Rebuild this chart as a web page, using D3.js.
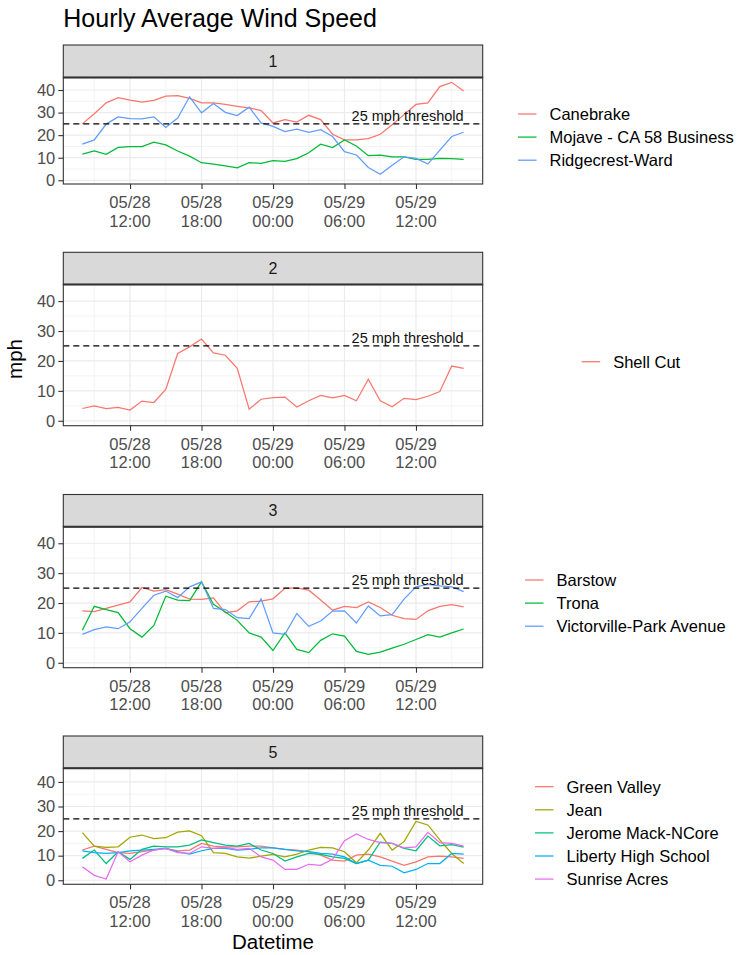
<!DOCTYPE html>
<html>
<head>
<meta charset="utf-8">
<script src="https://cdn.jsdelivr.net/npm/d3@7"></script>
<style>
  body { margin: 0; background: #fff; }
  text { font-family: "Liberation Sans", Arial, sans-serif; }
</style>
</head>
<body>
<div id="chart-area"></div>
<script>
// hourly timestamps 05/28 08:00 -> 05/29 16:00
var hours = [
    "2022-05-28 08:00", "2022-05-28 09:00", "2022-05-28 10:00", "2022-05-28 11:00",
    "2022-05-28 12:00", "2022-05-28 13:00", "2022-05-28 14:00", "2022-05-28 15:00",
    "2022-05-28 16:00", "2022-05-28 17:00", "2022-05-28 18:00", "2022-05-28 19:00",
    "2022-05-28 20:00", "2022-05-28 21:00", "2022-05-28 22:00", "2022-05-28 23:00",
    "2022-05-29 00:00", "2022-05-29 01:00", "2022-05-29 02:00", "2022-05-29 03:00",
    "2022-05-29 04:00", "2022-05-29 05:00", "2022-05-29 06:00", "2022-05-29 07:00",
    "2022-05-29 08:00", "2022-05-29 09:00", "2022-05-29 10:00", "2022-05-29 11:00",
    "2022-05-29 12:00", "2022-05-29 13:00", "2022-05-29 14:00", "2022-05-29 15:00",
    "2022-05-29 16:00"
];

// group 1
var canebrake = [25.0, 29.5, 34.3, 36.6, 35.5, 34.6, 35.4, 37.3, 37.5, 36.3, 34.3, 34.3, 33.6, 32.8, 32.1, 30.9,
    25.4, 26.9, 25.8, 28.8, 26.9, 20.4, 17.9, 17.9, 18.5, 20.4, 24.6, 29.1, 33.6, 34.3, 41.5, 43.4, 39.6];
var mojave = [11.6, 13.0, 11.5, 14.6, 14.9, 14.9, 16.9, 15.7, 13.0, 10.7, 7.8, 7.2, 6.4, 5.5, 7.8, 7.5,
    8.7, 8.4, 9.6, 12.2, 16.0, 14.5, 17.9, 15.2, 10.9, 11.2, 10.4, 10.4, 9.3, 9.3, 9.7, 9.6, 9.3];
var ridgecrest = [16.0, 17.9, 24.9, 28.1, 27.3, 27.2, 28.1, 23.4, 27.6, 37.0, 29.9, 34.0, 30.1, 28.7, 32.4, 25.4,
    23.9, 21.6, 22.7, 21.2, 22.4, 19.4, 12.7, 11.2, 5.7, 2.7, 6.7, 10.4, 9.7, 7.2, 13.4, 19.4, 21.3];
// group 2
var shellCut = [4.1, 5.0, 4.1, 4.5, 3.6, 6.6, 6.1, 10.5, 22.5, 24.7, 27.3, 22.7, 21.9, 17.5, 3.9, 7.2,
    7.7, 7.9, 4.6, 6.7, 8.5, 7.7, 8.5, 6.7, 13.9, 6.7, 4.7, 7.5, 7.1, 8.2, 9.8, 18.3, 17.5];
// group 3
var barstow = [17.4, 17.1, 18.2, 19.3, 20.4, 25.2, 24.0, 24.5, 23.0, 21.3, 21.2, 21.7, 16.7, 17.4, 20.4, 20.6,
    21.4, 24.9, 25.1, 24.3, 21.0, 17.6, 18.9, 18.5, 20.4, 18.5, 15.9, 14.8, 14.5, 17.4, 18.9, 19.5, 18.7];
var trona = [10.9, 18.9, 17.8, 16.8, 11.4, 8.6, 12.5, 22.3, 21.0, 20.8, 27.1, 19.6, 17.0, 14.2, 10.0, 8.6,
    4.1, 10.0, 4.5, 3.4, 7.5, 9.7, 8.9, 3.8, 2.8, 3.6, 4.9, 6.2, 7.8, 9.4, 8.6, 10.0, 11.3];
var victorville = [9.5, 11.1, 12.0, 11.4, 13.7, 18.2, 22.6, 24.0, 21.8, 25.4, 27.1, 18.2, 17.8, 15.1, 14.8, 21.4,
    10.0, 9.5, 16.5, 12.2, 14.0, 17.3, 17.4, 13.3, 19.0, 15.7, 16.1, 21.3, 25.4, 26.2, 25.7, 25.4, 23.8];
// group 5
var greenValley = [12.3, 13.9, 12.6, 11.2, 10.9, 11.6, 12.3, 13.0, 12.0, 12.3, 15.0, 13.9, 13.6, 13.6, 13.9, 13.9,
    13.2, 12.6, 12.3, 11.6, 10.2, 8.2, 7.8, 10.2, 10.6, 9.5, 7.8, 6.1, 7.5, 9.5, 9.8, 9.5, 8.9];
var jean = [19.4, 13.9, 13.4, 13.6, 17.5, 18.4, 16.9, 17.3, 19.6, 20.1, 18.1, 11.2, 10.9, 9.5, 9.0, 9.8,
    10.5, 9.5, 10.6, 12.3, 13.4, 13.2, 11.6, 7.1, 12.3, 19.1, 12.3, 15.7, 23.9, 22.5, 16.4, 10.9, 6.8];
var jeromeMack = [8.9, 12.3, 6.8, 11.6, 8.5, 12.6, 13.9, 13.6, 13.6, 14.3, 16.4, 15.3, 14.3, 13.9, 15.0, 12.3,
    10.9, 7.8, 9.5, 10.9, 10.5, 9.5, 8.9, 6.8, 8.2, 15.5, 15.0, 13.0, 12.0, 18.0, 14.0, 14.5, 13.5];
var liberty = [12.0, 11.2, 10.9, 11.2, 12.0, 12.3, 12.6, 13.0, 11.6, 10.6, 12.0, 13.0, 13.0, 12.3, 12.6, 13.2,
    13.2, 12.6, 12.0, 11.6, 10.9, 10.6, 9.5, 6.8, 8.2, 6.1, 5.7, 3.0, 4.4, 6.8, 6.8, 10.9, 10.6];
var sunrise = [5.5, 2.0, 0.5, 11.6, 7.5, 10.2, 12.3, 13.0, 11.2, 10.9, 13.6, 13.0, 13.4, 12.6, 13.0, 9.5,
    8.2, 4.4, 4.4, 6.5, 6.1, 8.5, 16.1, 18.8, 16.6, 15.3, 15.0, 13.2, 13.6, 19.5, 15.3, 15.0, 13.9];

var groups = ["1", "2", "3", "5"];
var groupSeries = [
    [["Canebrake", canebrake], ["Mojave - CA 58 Business", mojave], ["Ridgecrest-Ward", ridgecrest]],
    [["Shell Cut", shellCut]],
    [["Barstow", barstow], ["Trona", trona], ["Victorville-Park Avenue", victorville]],
    [["Green Valley", greenValley], ["Jean", jean], ["Jerome Mack-NCore", jeromeMack],
     ["Liberty High School", liberty], ["Sunrise Acres", sunrise]]
];
var threshold = 25;
var yTicks = [0, 10, 20, 30, 40];
var xTicks = ["2022-05-28 12:00", "2022-05-28 18:00", "2022-05-29 00:00", "2022-05-29 06:00", "2022-05-29 12:00"];

// palettes (ggplot hue)
var palettes = {
    1: ["#F8766D"],
    3: ["#F8766D", "#00BA38", "#619CFF"],
    5: ["#F8766D", "#A3A500", "#00BF7D", "#00B0F6", "#E76BF3"]
};

// layout of each facet block (pixels)
var left = 63.3, right = 482.7;
var layout = [
    {strip: 45, top: 77.5, bottom: 184, keyX: 518, legendY: 114},
    {strip: 252.3, top: 284.5, bottom: 425.7, keyX: 581.7, legendY: 361.7},
    {strip: 494.5, top: 526.7, bottom: 667.7, keyX: 525, legendY: 580},
    {strip: 736, top: 768.3, bottom: 884.3, keyX: 535, legendY: 786.7}
];

var width = 740, height = 955;
var svg = d3.select("#chart-area").append("svg")
    .attr("width", width)
    .attr("height", height);

var parse = d3.utcParse("%Y-%m-%d %H:%M");
var times = hours.map(parse);
var tickTimes = xTicks.map(parse);

// x scale with 5% expansion like ggplot
var tExt = d3.extent(times);
var tPad = (tExt[1] - tExt[0]) * 0.05;
var x = d3.scaleUtc()
    .domain([new Date(+tExt[0] - tPad), new Date(+tExt[1] + tPad)])
    .range([left, right]);

// shared y domain over all series
var allVals = [];
groupSeries.forEach(function(g) { g.forEach(function(s) { allVals = allVals.concat(s[1]); }); });
var vExt = d3.extent(allVals);
var vPad = (vExt[1] - vExt[0]) * 0.05;
var yDomain = [vExt[0] - vPad, vExt[1] + vPad];

var minorX = d3.utcHour.every(6).range(x.domain()[0], x.domain()[1]).map(function(d) {
    return new Date(+d - 3 * 3600 * 1000);
}).filter(function(d) { return d >= x.domain()[0] && d <= x.domain()[1]; });
minorX.push(new Date(+tickTimes[tickTimes.length - 1] + 3 * 3600 * 1000));
var minorY = [5, 15, 25, 35];

// title
svg.append("text")
    .attr("x", left)
    .attr("y", 27)
    .attr("font-size", "25px")
    .style("fill", "black")
    .text("Hourly Average Wind Speed");

groups.forEach(function(grp, gi) {
    var L = layout[gi];
    var series = groupSeries[gi];
    var colors = palettes[series.length];
    var y = d3.scaleLinear().domain(yDomain).range([L.bottom, L.top]);
    var g = svg.append("g");

    // strip
    g.append("rect")
        .attr("x", left).attr("y", L.strip)
        .attr("width", right - left).attr("height", L.top - L.strip)
        .attr("fill", "#D9D9D9").attr("stroke", "#333333").attr("stroke-width", 1.1);
    g.append("text")
        .attr("x", (left + right) / 2)
        .attr("y", (L.strip + L.top) / 2)
        .attr("dy", "0.35em")
        .attr("text-anchor", "middle")
        .attr("font-size", "16px")
        .style("fill", "#1A1A1A")
        .text(grp);

    // grid
    g.selectAll(".minor-y").data(minorY).enter().append("line")
        .attr("x1", left).attr("x2", right)
        .attr("y1", function(d) { return y(d); }).attr("y2", function(d) { return y(d); })
        .attr("stroke", "#EBEBEB").attr("stroke-width", 0.6);
    g.selectAll(".minor-x").data(minorX).enter().append("line")
        .attr("x1", function(d) { return x(d); }).attr("x2", function(d) { return x(d); })
        .attr("y1", L.top).attr("y2", L.bottom)
        .attr("stroke", "#EBEBEB").attr("stroke-width", 0.6);
    g.selectAll(".major-y").data(yTicks).enter().append("line")
        .attr("x1", left).attr("x2", right)
        .attr("y1", function(d) { return y(d); }).attr("y2", function(d) { return y(d); })
        .attr("stroke", "#EBEBEB").attr("stroke-width", 1.2);
    g.selectAll(".major-x").data(tickTimes).enter().append("line")
        .attr("x1", function(d) { return x(d); }).attr("x2", function(d) { return x(d); })
        .attr("y1", L.top).attr("y2", L.bottom)
        .attr("stroke", "#EBEBEB").attr("stroke-width", 1.2);

    // lines
    var line = d3.line()
        .x(function(d, i) { return x(times[i]); })
        .y(function(d) { return y(d); });
    series.forEach(function(s, si) {
        g.append("path")
            .datum(s[1])
            .attr("d", line)
            .attr("fill", "none")
            .attr("stroke", colors[si])
            .attr("stroke-width", 1.25);
    });

    // threshold
    g.append("line")
        .attr("x1", left).attr("x2", right)
        .attr("y1", y(threshold)).attr("y2", y(threshold))
        .attr("stroke", "black").attr("stroke-width", 1.2)
        .attr("stroke-dasharray", "6,4");
    g.append("text")
        .attr("x", x(times[times.length - 1]))
        .attr("y", y(threshold) - 3)
        .attr("text-anchor", "end")
        .attr("font-size", "14.5px")
        .style("fill", "#111")
        .text("25 mph threshold");

    // panel border
    g.append("rect")
        .attr("x", left).attr("y", L.top)
        .attr("width", right - left).attr("height", L.bottom - L.top)
        .attr("fill", "none").attr("stroke", "#333333").attr("stroke-width", 1.1);
    g.append("line")
        .attr("x1", left).attr("x2", right)
        .attr("y1", L.top).attr("y2", L.top)
        .attr("stroke", "#333333").attr("stroke-width", 2);

    // axes
    var leftAxis = d3.axisLeft(y).tickValues(yTicks).tickSize(5).tickPadding(3);
    var ya = g.append("g")
        .attr("class", "left axis")
        .attr("transform", "translate(" + left + ",0)")
        .call(leftAxis);
    ya.select(".domain").remove();
    ya.selectAll("line").attr("stroke", "#333333").attr("stroke-width", 1.1);
    ya.selectAll("text").attr("font-size", "16.5px").style("fill", "#4D4D4D").attr("font-family", null);

    var bottomAxis = d3.axisBottom(x).tickValues(tickTimes).tickSize(5).tickFormat("");
    var xa = g.append("g")
        .attr("class", "bottom axis")
        .attr("transform", "translate(0," + L.bottom + ")")
        .call(bottomAxis);
    xa.select(".domain").remove();
    xa.selectAll("line").attr("stroke", "#333333").attr("stroke-width", 1.1);
    var lab = g.selectAll(".xlab").data(tickTimes).enter().append("text")
        .attr("text-anchor", "middle")
        .attr("font-size", "16.5px")
        .style("fill", "#4D4D4D");
    lab.append("tspan")
        .attr("x", function(d) { return x(d); })
        .attr("y", L.bottom + 24)
        .text(d3.utcFormat("%m/%d"));
    lab.append("tspan")
        .attr("x", function(d) { return x(d); })
        .attr("y", L.bottom + 42.5)
        .text(d3.utcFormat("%H:%M"));

    // legend
    series.forEach(function(s, si) {
        var ly = L.legendY + si * 23.1;
        g.append("line")
            .attr("x1", L.keyX).attr("x2", L.keyX + 18.5)
            .attr("y1", ly).attr("y2", ly)
            .attr("stroke", colors[si]).attr("stroke-width", 1.25);
        g.append("text")
            .attr("x", L.keyX + 31.5)
            .attr("y", ly)
            .attr("dy", "0.36em")
            .attr("font-size", "16.5px")
            .style("fill", "black")
            .text(s[0]);
    });
});

// axis titles
svg.append("text")
    .attr("x", -359)
    .attr("y", 22)
    .attr("transform", "rotate(-90)")
    .attr("text-anchor", "middle")
    .attr("font-size", "20.5px")
    .style("fill", "black")
    .text("mph");

svg.append("text")
    .attr("x", (left + right) / 2)
    .attr("y", 949)
    .attr("text-anchor", "middle")
    .attr("font-size", "20.5px")
    .style("fill", "black")
    .text("Datetime");
</script>
</body>
</html>
